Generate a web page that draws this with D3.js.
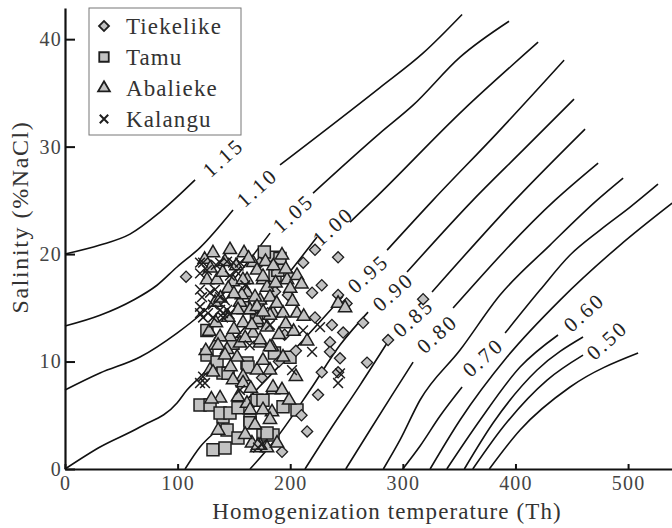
<!DOCTYPE html>
<html>
<head>
<meta charset="utf-8">
<script src="https://cdn.jsdelivr.net/npm/d3@7/dist/d3.min.js"></script>
<style>
  html, body { margin: 0; padding: 0; background: #fff; }
  svg { display: block; }
</style>
</head>
<body>
<svg id="chart" width="672" height="528"></svg>
<script>
// ---------------- DATA ----------------
// scatter points: [Homogenization temperature, Salinity]
const tiekelike = [
  [107.5,17.9],[222,20.4],[242.5,19.7],[211.5,19.2],[228,17.1],[219.4,16.4],[186.5,16.5],
  [198,16.2],[242.5,16.2],[250,15.4],[318,15.8],[222,14.1],[264.7,13.6],[237,13.4],
  [247,12.7],[286.9,12.0],[235.3,11.8],[235.3,10.9],[244.2,10.3],[268.2,9.9],[228,9.0],
  [242.5,9.0],[224.7,6.9],[192.7,1.6],[173,19.2],[184.7,19.0],[180,14.5],[195,12.5],
  [205,11.0],[175,8.5],[210,5.0],[200,18.0],[190,10.0],[215,3.5]
];
const tamu = [
  [131.4,1.8],[142.1,1.95],[119.9,5.95],[128.8,5.95],[140.3,4.84],[143.9,3.63],[153.6,2.88],
  [164.3,4.56],[175.8,3.16],[184.7,3.16],[126.1,10.6],[135,9.95],[140.3,8.93],[161.6,9.86],
  [149.2,11.7],[184.7,19.7],[186.5,18.0],[144.8,8.9],[162.5,9.5],[170.5,6.4],[137.7,5.2],
  [146.5,5.2],[153.6,5.7],[199.8,10.4],[193.6,5.8],[206,5.5],[175.8,6.4],[179.4,3.35],
  [164.3,4.3],[190.9,19.6],[189,18.5],[177,20.2],[170,13.8],[158,15.0],[126,12.9],[186,10.8]
];
const abalieke = [
  [131.4,20.1],[126.1,17.6],[135,17.6],[149.2,17.4],[161.6,17.6],[175.8,17.6],[167,19.2],
  [133.2,15.5],[155.4,15.5],[173.2,15.7],[184.7,14.5],[133.2,11.5],[143.9,11.1],[155.4,11.7],
  [173.2,11.7],[183.8,11.35],[128.8,9.2],[158.1,8.6],[170.5,9.2],[182,9.2],[184.7,7.35],
  [183.8,5.3],[161.6,6.1],[170.5,1.95],[179.4,1.95],[188.3,2.4],[158,17.6],[170.5,18.5],
  [161.6,16.4],[168.7,16.0],[179.4,16.9],[153.6,14.8],[164.3,14.8],[158.1,13.6],[170.5,13.9],
  [179.4,13.2],[167,12.65],[146.5,12.3],[137.7,12.3],[135.9,11.5],[142.1,10.6],[152.8,10.4],
  [131.4,9.0],[149.2,8.3],[158.1,8.0],[137.7,6.6],[153.6,6.7],[164.3,5.5],[175.8,5.5],
  [166,2.4],[173.2,2.2],[192.7,19.9],[175.8,17.9],[197.2,17.6],[206,18.0],[182,16.0],
  [170.5,15.1],[182,14.3],[193.6,14.5],[206,14.5],[173.2,12.0],[182,11.35],[175.8,10.1],
  [193.6,10.4],[184.7,7.6],[192.7,7.35],[171.4,2.2],[242.5,15.4],[248.7,15.0],[146.5,20.4],
  [159,20.1],[142,19.3],[182,4.6],[168.7,4.1],[136,3.6],[124,19.5],[129,18.7],[140,18.3],
  [145,16.8],[152,18.9],[157,16.2],[163,19.6],[178,19.3],[185,18.9],[196,18.6],[200,16.8],
  [210,17.2],[188,15.4],[176,14.6],[166,13.4],[150,13.0],[128,12.8],[125,11.0],[147,9.5],
  [165,7.5],[130,6.5],[160,3.2],[190,12.5],[203,12.8],[212,14.2],[215,11.9],[205,8.6],[199,6.4],
  [138,15.9],[150,16.3],[187,17.3],[202,15.6],[160,12.2],[145,14.1],[196,13.5],[134,13.6]
];
const kalangu = [
  [119.9,19.2],[119.9,16.7],[121.7,16.0],[119.9,14.5],[122.6,14.1],[140.3,14.5],[143.9,14.8],
  [137.7,19.2],[143.9,19.3],[149.2,19.2],[155.4,19.2],[122.6,19.2],[119.9,18.2],[128.8,16.4],
  [137.7,16.0],[119.9,15.1],[127,14.5],[131.4,14.1],[137.7,14.8],[140.3,14.1],[119.9,8.0],
  [122.6,8.6],[124.3,8.0],[211.4,12.9],[219.4,10.9],[226.5,13.2],[242.5,8.0],[244.2,8.9],
  [201.6,9.2],[146.5,18.0],[160,17.1],[133.2,16.7],[142,15.7],[126,18.5],[131.4,15.3],
  [171.4,2.0],[175,2.3],[164,11.5],[182,13.4],[155.4,7.35],[134,19.0],[146,14.4],[152,18.4]
];

// density isolines (g/cm3), each a list of segments of [T, S] points
const iso115 = [[[0,20.0],[31.1,20.84],[57.7,21.86],[84.4,23.91],[115.5,26.9]]];
const iso110 = [[[0,13.3],[31.1,14.3],[60.4,15.7],[81.7,17.1],[99.5,18.8],[119.9,20.6],[149.2,24.1]],
                [[190.9,28.3],[279.7,35.5],[317.9,38.7],[352.6,42.3]]];
const iso105 = [[[0,7.35],[31.1,8.93],[66.6,10.42],[99.5,12.65],[119.9,14.33],[182.1,21.95]],
                [[220.2,25.67],[279.7,31.26],[309.1,33.86],[350.8,38.33],[394.3,41.67]]];
const iso100 = [[[0,0],[31.1,2.05],[66.6,3.91],[99.5,6.14],[108.3,7.35],[119.9,8.56],[223.8,21.58]],
                [[253.1,22.98],[273.5,25.02],[353.5,33.4],[420.1,39.72]]];
const iso095 = [[[106.6,0],[119.9,2.05],[135,3.63],[190.9,9.67],[246.9,16.09]],
                [[286,20.37],[326.8,25.02],[383.7,31.26],[443.2,38.05]]];
const iso090 = [[[164.3,0],[186.5,2.7],[217.6,7.35],[244.2,11.53],[269.1,14.6]],
                [[303.7,18.33],[362.3,25.02],[406.7,29.67],[452,34.42]]];
const iso085 = [[[213.1,0],[235.3,3.63],[262,7.81],[287.7,12.0]],
                [[325.9,16.47],[399.6,25.02],[461.8,31.63]]];
const iso080 = [[[249.3,0],[270.9,3.63],[290.4,6.88],[309.1,9.95]],
                [[344.6,14.98],[435.2,25.02],[473.4,28.47]]];
const iso075 = [[[282.7,0],[297.5,2.7],[315.3,6.42],[350.8,11.07],[386.3,16.19],[430.7,20.84],[472.5,25.02],[495.6,27.07]]];
const iso070 = [[[299.9,0],[315.3,2.14],[333,4.93],[352.6,7.63]],
                [[390.8,12.65],[421.8,16.65],[448.5,19.91],[475.1,22.23],[501.8,24.37],[526.6,26.51]]];
const iso065 = [[[324.2,0],[350.8,4.56],[392.5,10.42],[439.6,15.72],[492.9,20.84],[539.1,24.74]]];
const iso060 = [[[339,0],[368.6,4.56],[404.1,9.49],[437.8,12.47]]];
const iso055 = [[[354.6,0],[380.1,4.28],[419.2,9.21],[460,12.28]]];
const iso050 = [[[362.1,0],[389,3.91],[428.1,8.28],[460,10.6]]];
const iso045 = [[[376.8,0],[404.1,3.63],[448.5,7.63],[508.9,10.79]]];

const contourLabelText = ["1.15","1.10","1.05","1.00","0.95","0.90","0.85","0.80","0.70","0.60","0.50"];
const contourLabelT = [140.3,170.5,202.5,238,269.1,291.3,309.1,330.4,371.2,460.9,481.3];
const contourLabelS = [29.0,26.2,23.8,22.6,18.2,16.5,14.1,12.6,10.4,14.6,12.0];

const xTicks = [0,100,200,300,400,500];
const yTicks = [0,10,20,30,40];
const seriesNames = ["Tiekelike","Tamu","Abalieke","Kalangu"];

// ---------------- DRAW ----------------
const FONT = "'Liberation Serif'";
const svg = d3.select("#chart");
const x = d3.scaleLinear().domain([0,539]).range([65,672]);
const y = d3.scaleLinear().domain([0,42.9]).range([469,8]);

// contours
const line = d3.line().x(d => x(d[0])).y(d => y(d[1])).curve(d3.curveMonotoneX);
const allIso = [iso115, iso110, iso105, iso100, iso095, iso090, iso085, iso080, iso075, iso070, iso065, iso060, iso055, iso050, iso045];
const gC = svg.append("g");
allIso.forEach(iso => iso.forEach(seg => {
  gC.append("path").attr("d", line(seg)).attr("fill","none")
    .attr("stroke","#111").attr("stroke-width",1.6).attr("stroke-linejoin","round");
}));
contourLabelText.forEach((t,i) => {
  const px = x(contourLabelT[i]), py = y(contourLabelS[i]);
  gC.append("text").attr("transform", `translate(${px},${py}) rotate(-42)`)
    .attr("text-anchor","middle").attr("dy","0.35em")
    .style("font-family", FONT).style("font-size","21px").style("letter-spacing","2.5px")
    .style("fill","#222").text(t);
});

// axes
const xAxis = d3.axisBottom(x).tickValues(xTicks).tickSizeInner(-5).tickSizeOuter(0).tickPadding(7);
const yAxis = d3.axisLeft(y).tickValues(yTicks).tickSizeInner(-10).tickSizeOuter(0).tickPadding(3);
const gx = svg.append("g").attr("transform","translate(0,469)").call(xAxis);
const gy = svg.append("g").attr("transform","translate(65,0)").call(yAxis);
[gx, gy].forEach(g => {
  g.select(".domain").attr("stroke","#111").attr("stroke-width",2.2);
  g.selectAll(".tick line").attr("stroke","#111").attr("stroke-width",2);
  g.selectAll(".tick text").style("font-family", FONT).style("font-size","20px")
    .style("letter-spacing","1.2px").style("fill","#444");
});

// markers
const GRAY = "#c2c2c2", EDGE = "#1e1e1e";
const symSquare = d3.symbol(d3.symbolSquare, 144);
const symDiamond = d3.symbol(d3.symbolSquare, 62);
const symTriangle = d3.symbol(d3.symbolTriangle, 76);
const symX = d3.symbol(d3.symbolX || d3.symbolCross, 64);

const gP = svg.append("g");
gP.selectAll(".sq").data(tamu).join("path")
  .attr("d", symSquare()).attr("transform", d => `translate(${x(d[0])},${y(d[1])})`)
  .attr("fill", GRAY).attr("stroke", EDGE).attr("stroke-width", 1.5);
gP.selectAll(".di").data(tiekelike).join("path")
  .attr("d", symDiamond()).attr("transform", d => `translate(${x(d[0])},${y(d[1])}) rotate(45)`)
  .attr("fill", GRAY).attr("stroke", EDGE).attr("stroke-width", 1.3);
gP.selectAll(".tr").data(abalieke).join("path")
  .attr("d", symTriangle()).attr("transform", d => `translate(${x(d[0])},${y(d[1])})`)
  .attr("fill", GRAY).attr("stroke", EDGE).attr("stroke-width", 1.5);
gP.selectAll(".xx").data(kalangu).join("path")
  .attr("d", symX()).attr("transform", d => `translate(${x(d[0])},${y(d[1])})`)
  .attr("fill", "none").attr("stroke", EDGE).attr("stroke-width", 1.5);

// axis titles
svg.append("text").attr("x", 387).attr("y", 519).attr("text-anchor","middle")
  .style("font-family", FONT).style("font-size","23px").style("letter-spacing","1.1px")
  .style("fill","#333").text("Homogenization temperature (Th)");
svg.append("text").attr("transform","translate(28,217) rotate(-90)").attr("text-anchor","middle")
  .style("font-family", FONT).style("font-size","24px").style("letter-spacing","1.6px")
  .style("fill","#333").text("Salinity (%NaCl)");

// legend
const lg = svg.append("g");
lg.append("rect").attr("x",89).attr("y",8).attr("width",152).attr("height",127)
  .attr("fill","#fff").attr("stroke","#777").attr("stroke-width",1);
const lgSym = [
  {d: d3.symbol(d3.symbolSquare, 50)(), rot: 45, fill: GRAY, sw: 1.8},
  {d: d3.symbol(d3.symbolSquare, 90)(), rot: 0, fill: GRAY, sw: 1.8},
  {d: d3.symbol(d3.symbolTriangle, 60)(), rot: 0, fill: GRAY, sw: 1.8},
  {d: d3.symbol(d3.symbolX || d3.symbolCross, 48)(), rot: 0, fill: "none", sw: 2}
];
seriesNames.forEach((name, i) => {
  const cy = 26 + i * 31;
  lg.append("path").attr("d", lgSym[i].d)
    .attr("transform", `translate(104,${cy}) rotate(${lgSym[i].rot})`)
    .attr("fill", lgSym[i].fill).attr("stroke", EDGE).attr("stroke-width", lgSym[i].sw);
  lg.append("text").attr("x", 126).attr("y", cy + 7.5)
    .style("font-family", FONT).style("font-size","23px").style("letter-spacing","1.1px")
    .style("fill","#333").text(name);
});
</script>
</body>
</html>
